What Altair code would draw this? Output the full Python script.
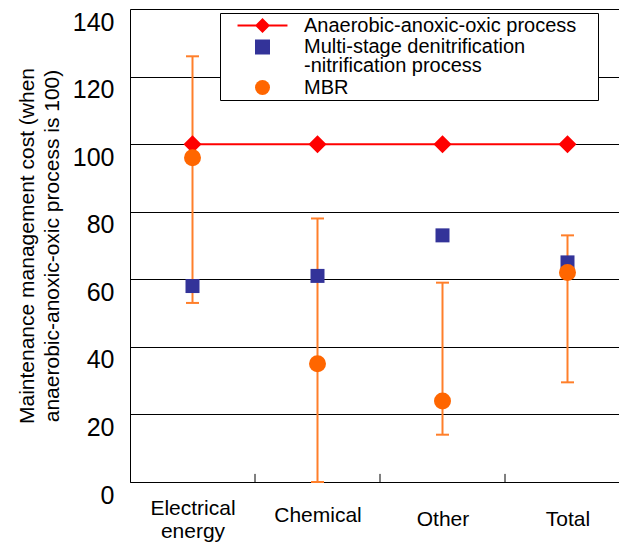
import json
import altair as alt
import pandas as pd

# ---- data -------------------------------------------------------------
categories = ["Electrical energy", "Chemical", "Other", "Total"]
category_lines = [["Electrical", "energy"], ["Chemical"], ["Other"], ["Total"]]

series_names = [
    "Anaerobic-anoxic-oxic process",
    "Multi-stage denitrification-nitrification process",
    "MBR",
]
series_colors = ["#FF0000", "#333399", "#FF6600"]
series_shapes = ["diamond", "square", "circle"]
series_sizes = [324, 196, 289]

aao_values = [100, 100, 100, 100]
mdn_values = [58, 61, 73, 65]
mbr_values = [96, 35, 24, 62]
mbr_low = [53, 0, 14, 29.5]
mbr_high = [126, 78, 59, 73]

y_ticks = [0, 20, 40, 60, 80, 100, 120, 140]

FONT = "Liberation Sans"
ERR_COLOR = "#FF7F2A"

# ---- tables -----------------------------------------------------------
slot = [i + 0.5 for i in range(len(categories))]
boundaries = [float(i) for i in range(1, len(categories))]

series_tables = [
    pd.DataFrame({"x": slot, "category": categories, "series": name, "value": vals})
    for name, vals in zip(series_names, [aao_values, mdn_values, mbr_values])
]
err = pd.DataFrame({"x": slot, "category": categories, "lo": mbr_low, "hi": mbr_high})
bounds = pd.DataFrame({"b": boundaries})

# ---- scales / axes ----------------------------------------------------
x_scale = alt.Scale(domain=[0, 3.912], nice=False, zero=False)
y_scale = alt.Scale(domain=[0, 140], nice=False, zero=True)

x_axis = alt.Axis(
    values=slot,
    labelExpr=f"{json.dumps(category_lines)}[floor(datum.value)]",
    title=None,
    ticks=False,
    tickSize=0,
    grid=False,
    domainColor="#000",
    domainWidth=1,
    labelFont=FONT,
    labelFontSize=21,
    labelColor="#000",
    labelLineHeight=23,
    labelBaseline="middle",
    labelPadding={
        "condition": [
            {"test": "datum.value < 1", "value": 26},
            {"test": "datum.value < 2", "value": 33},
        ],
        "value": 37,
    },
    labelFlush=False,
    labelOverlap=False,
)

y_axis = alt.Axis(
    values=y_ticks,
    title=["Maintenance management cost (when", "anaerobic-anoxic-oxic process is 100)"],
    titleFont=FONT,
    titleFontSize=21,
    titleFontWeight="normal",
    titleColor="#000",
    titleLineHeight=25,
    titleAngle=270,
    titleBaseline="top",
    titleAlign="center",
    titleX=-114,
    titleY=236.5,
    ticks=False,
    tickSize=0,
    grid=True,
    gridColor="#000",
    gridWidth=1,
    gridOpacity=1,
    domainColor="#000",
    domainWidth=1,
    labelFont=FONT,
    labelFontSize=25,
    labelColor="#000",
    labelPadding=16,
    labelOffset=13,
    labelOverlap=False,
)

x_enc = alt.X("x:Q", scale=x_scale, axis=x_axis)

# legend symbols: diamond on a short line for the reference process
diamond_line = "M-3.33,-0.13H3.33V0.13H-3.33Z M0,-1L1,0L0,1L-1,0Z"
symbol_expr = (
    f"datum.value === {json.dumps(series_names[0])} ? {json.dumps(diamond_line)} : "
    f"datum.value === {json.dumps(series_names[1])} ? 'square' : 'circle'"
)
label_expr = (
    f"datum.label === {json.dumps(series_names[1])} ? "
    "['Multi-stage denitrification', '-nitrification process'] : datum.label"
)

legend = alt.Legend(
    # blank right-hand title keeps some room after the labels
    title=" ",
    titleOrient="right",
    titlePadding=19,
    titleFontSize=20,
    orient="none",
    legendX=90,
    legendY=4,
    direction="vertical",
    padding=2.5,
    strokeColor="#000",
    fillColor="#FFFFFF",
    cornerRadius=0,
    labelFont=FONT,
    labelFontSize=20,
    labelColor="#000",
    labelLimit=500,
    labelExpr=label_expr,
    labelOffset=31.5,
    symbolOffset=30,
    symbolSize=225,
    symbolStrokeWidth=0,
    symbolOpacity=1,
    symbolType={"expr": symbol_expr},
    rowPadding=1.5,
)

color_enc = alt.Color(
    "series:N",
    scale=alt.Scale(domain=series_names, range=series_colors),
    legend=legend,
)

# ---- layers -----------------------------------------------------------
base_y = alt.Y("value:Q", scale=y_scale, axis=y_axis)

slot_ticks = alt.Chart(bounds).mark_rule(color="#000", strokeWidth=1).encode(
    x=alt.X("b:Q", scale=x_scale, axis=x_axis),
    y=alt.Y("zero:Q", scale=y_scale, axis=y_axis),
    y2="top:Q",
).transform_calculate(zero="0", top="2.4")

err_rule = alt.Chart(err).mark_rule(color=ERR_COLOR, strokeWidth=2).encode(
    x=x_enc,
    y=alt.Y("lo:Q", scale=y_scale, axis=y_axis),
    y2="hi:Q",
)
cap_lo = alt.Chart(err).mark_tick(
    color=ERR_COLOR, orient="horizontal", size=13, thickness=2, opacity=1
).encode(x=x_enc, y=alt.Y("lo:Q", scale=y_scale, axis=y_axis))
cap_hi = alt.Chart(err).mark_tick(
    color=ERR_COLOR, orient="horizontal", size=13, thickness=2, opacity=1
).encode(x=x_enc, y=alt.Y("hi:Q", scale=y_scale, axis=y_axis))

aao_line = alt.Chart(series_tables[0]).mark_line(color="#FF0000", strokeWidth=2).encode(
    x=x_enc, y=base_y
)

point_layers = [
    alt.Chart(tbl).mark_point(filled=True, opacity=1, shape=shp, size=sz).encode(
        x=x_enc, y=base_y, color=color_enc
    )
    for tbl, shp, sz in zip(series_tables, series_shapes, series_sizes)
]

chart = (
    alt.layer(slot_ticks, err_rule, cap_lo, cap_hi, aao_line, *point_layers)
    .properties(
        width=489,
        height=473,
        padding={"left": 130, "top": 9, "right": 0, "bottom": 61},
        autosize=alt.AutoSizeParams(type="none"),
        background="#FFFFFF",
    )
    .configure_view(stroke=None)
    .configure(style={"guide-label": {"lineHeight": 19}})
)

chart.save("out.html", embed_options={"renderer": "svg", "actions": False})
